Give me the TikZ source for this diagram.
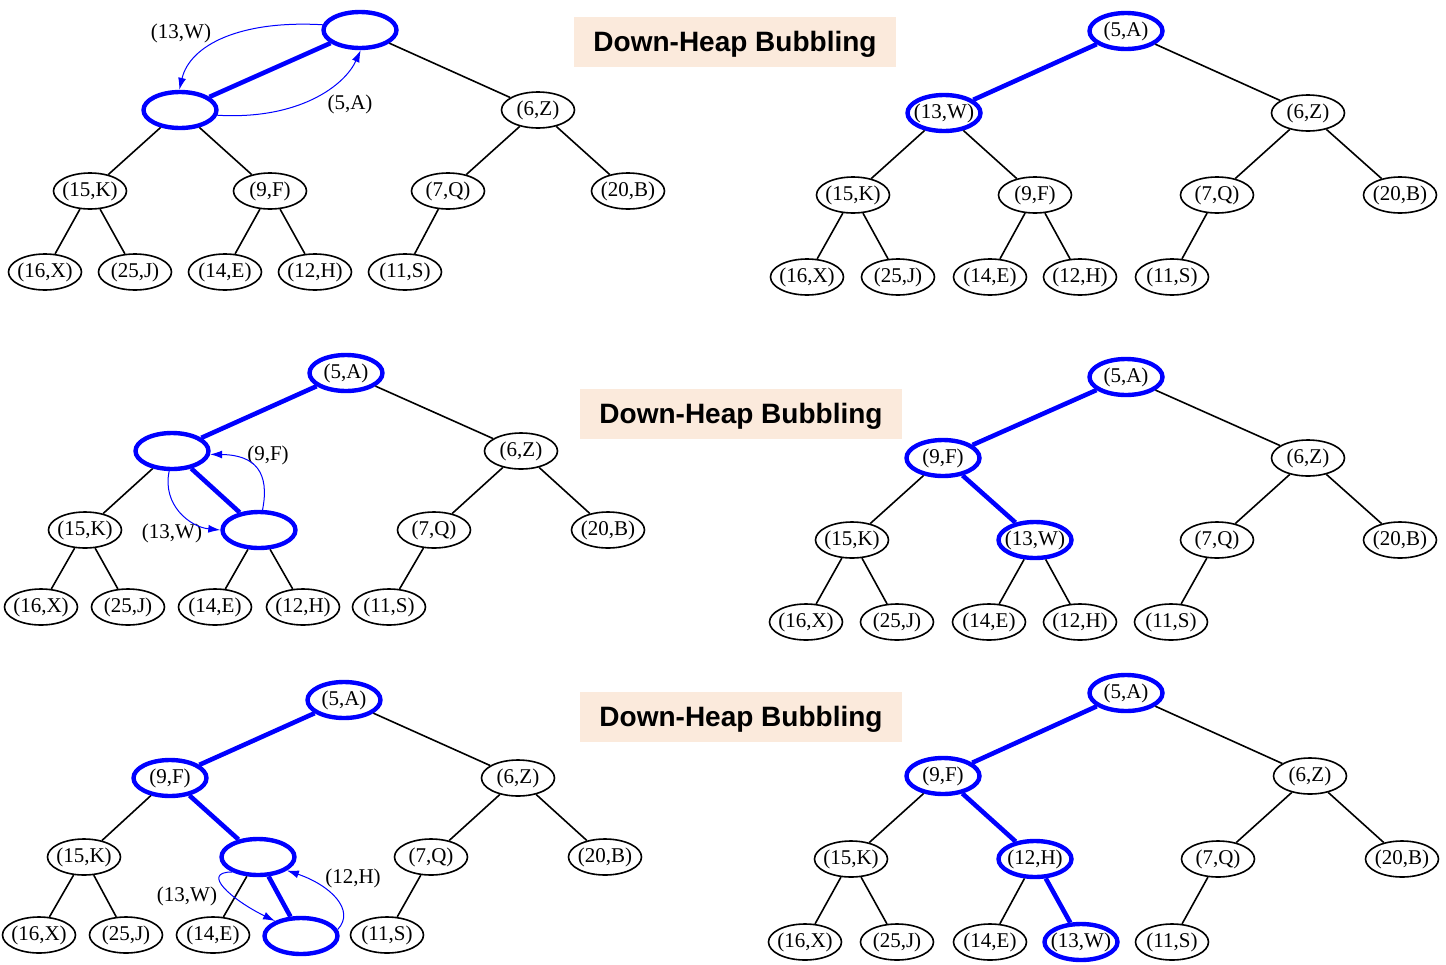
\documentclass[tikz,border=0pt]{standalone}
\usepackage{fontspec}
\setmainfont{Liberation Serif}
\newfontfamily\titlefont{Liberation Sans}
\usepackage{tikz}
\usetikzlibrary{shapes.geometric}
\usetikzlibrary{arrows.meta}
\definecolor{peach}{RGB}{251,234,220}

\begin{document}
\begin{tikzpicture}[x=0.5pt,y=0.5pt,
	heapnode/.style={ellipse, draw=black, line width=0.8pt, minimum width=36.5pt, minimum height=18pt, inner xsep=-5pt, inner ysep=0pt, font=\fontsize{10.5}{12}\selectfont},
	hotnode/.style={heapnode, draw=blue, line width=2.2pt},
	edge/.style={draw=black, line width=0.8pt},
	hotedge/.style={draw=blue, line width=2.3pt},
	swaparrow/.style={draw=blue, line width=0.5pt, -{Latex[length=6pt,width=4pt]}},
	swaplabel/.style={font=\fontsize{10.5}{12}\selectfont},
	titlebox/.style={fill=peach, minimum width=161pt, minimum height=25pt, text depth=1pt, font=\titlefont\bfseries\fontsize{14}{16}\selectfont},
	]
	\useasboundingbox (0,0) rectangle (1446,-964);

	%Titles
	\node[titlebox] (title1) at (735,-42)  {Down-Heap Bubbling};
	\node[titlebox] (title2) at (741,-414) {Down-Heap Bubbling};
	\node[titlebox] (title3) at (741,-717) {Down-Heap Bubbling};

	%Tree a (top left)
	\node[hotnode]  (a1)  at (360,-30)  {};
	\node[hotnode]  (a2)  at (180,-110) {};
	\node[heapnode] (a3)  at (538,-110) {(6,Z)};
	\node[heapnode] (a4)  at (90,-191)  {(15,K)};
	\node[heapnode] (a5)  at (270,-191) {(9,F)};
	\node[heapnode] (a6)  at (448,-191) {(7,Q)};
	\node[heapnode] (a7)  at (628,-191) {(20,B)};
	\node[heapnode] (a8)  at (45,-272)  {(16,X)};
	\node[heapnode] (a9)  at (135,-272) {(25,J)};
	\node[heapnode] (a10) at (225,-272) {(14,E)};
	\node[heapnode] (a11) at (315,-272) {(12,H)};
	\node[heapnode] (a12) at (405,-272) {(11,S)};
	\node[swaplabel] (a13) at (181,-33)  {(13,W)};
	\node[swaplabel] (a14) at (350,-104) {(5,A)};

	\draw[hotedge] (a1) -- (a2);
	\draw[edge] (a1) -- (a3);
	\draw[edge] (a2) -- (a4);
	\draw[edge] (a2) -- (a5);
	\draw[edge] (a3) -- (a6);
	\draw[edge] (a3) -- (a7);
	\draw[edge] (a4) -- (a8);
	\draw[edge] (a4) -- (a9);
	\draw[edge] (a5) -- (a10);
	\draw[edge] (a5) -- (a11);
	\draw[edge] (a6) -- (a12);
	\draw[swaparrow] (a1.172) .. controls (240,-20) and (190,-45) .. (a2.92);
	\draw[swaparrow] (a2.-8) .. controls (300,-120) and (345,-85) .. (a1.-88);

	%Tree b (top right)
	\node[hotnode]  (b1)  at (1126,-31)  {(5,A)};
	\node[hotnode]  (b2)  at (944,-113)  {(13,W)};
	\node[heapnode] (b3)  at (1308,-113) {(6,Z)};
	\node[heapnode] (b4)  at (853,-195)  {(15,K)};
	\node[heapnode] (b5)  at (1035,-195) {(9,F)};
	\node[heapnode] (b6)  at (1217,-195) {(7,Q)};
	\node[heapnode] (b7)  at (1400,-195) {(20,B)};
	\node[heapnode] (b8)  at (807,-277)  {(16,X)};
	\node[heapnode] (b9)  at (898,-277)  {(25,J)};
	\node[heapnode] (b10) at (990,-277)  {(14,E)};
	\node[heapnode] (b11) at (1080,-277) {(12,H)};
	\node[heapnode] (b12) at (1172,-277) {(11,S)};

	\draw[hotedge] (b1) -- (b2);
	\draw[edge] (b1) -- (b3);
	\draw[edge] (b2) -- (b4);
	\draw[edge] (b2) -- (b5);
	\draw[edge] (b3) -- (b6);
	\draw[edge] (b3) -- (b7);
	\draw[edge] (b4) -- (b8);
	\draw[edge] (b4) -- (b9);
	\draw[edge] (b5) -- (b10);
	\draw[edge] (b5) -- (b11);
	\draw[edge] (b6) -- (b12);

	%Tree c (middle left)
	\node[hotnode]  (c1)  at (346,-373) {(5,A)};
	\node[hotnode]  (c2)  at (172,-451) {};
	\node[heapnode] (c3)  at (521,-451) {(6,Z)};
	\node[heapnode] (c4)  at (85,-530)  {(15,K)};
	\node[hotnode]  (c5)  at (259,-530) {};
	\node[heapnode] (c6)  at (434,-530) {(7,Q)};
	\node[heapnode] (c7)  at (608,-530) {(20,B)};
	\node[heapnode] (c8)  at (41,-607)  {(16,X)};
	\node[heapnode] (c9)  at (128,-607) {(25,J)};
	\node[heapnode] (c10) at (215,-607) {(14,E)};
	\node[heapnode] (c11) at (303,-607) {(12,H)};
	\node[heapnode] (c12) at (389,-607) {(11,S)};
	\node[swaplabel] (c13) at (268,-455) {(9,F)};
	\node[swaplabel] (c14) at (172,-533) {(13,W)};

	\draw[hotedge] (c1) -- (c2);
	\draw[edge] (c1) -- (c3);
	\draw[edge] (c2) -- (c4);
	\draw[hotedge] (c2) -- (c5);
	\draw[edge] (c3) -- (c6);
	\draw[edge] (c3) -- (c7);
	\draw[edge] (c4) -- (c8);
	\draw[edge] (c4) -- (c9);
	\draw[edge] (c5) -- (c10);
	\draw[edge] (c5) -- (c11);
	\draw[edge] (c6) -- (c12);
	\draw[swaparrow] (c2.-98) .. controls (162,-505) and (190,-527) .. (c5.180);
	\draw[swaparrow] (c5.80) .. controls (270,-472) and (255,-455) .. (c2.-5);

	%Tree d (middle right)
	\node[hotnode]  (d1)  at (1126,-377) {(5,A)};
	\node[hotnode]  (d2)  at (943,-458)  {(9,F)};
	\node[heapnode] (d3)  at (1308,-458) {(6,Z)};
	\node[heapnode] (d4)  at (852,-540)  {(15,K)};
	\node[hotnode]  (d5)  at (1035,-540) {(13,W)};
	\node[heapnode] (d6)  at (1217,-540) {(7,Q)};
	\node[heapnode] (d7)  at (1400,-540) {(20,B)};
	\node[heapnode] (d8)  at (806,-622)  {(16,X)};
	\node[heapnode] (d9)  at (897,-622)  {(25,J)};
	\node[heapnode] (d10) at (989,-622)  {(14,E)};
	\node[heapnode] (d11) at (1080,-622) {(12,H)};
	\node[heapnode] (d12) at (1171,-622) {(11,S)};

	\draw[hotedge] (d1) -- (d2);
	\draw[edge] (d1) -- (d3);
	\draw[edge] (d2) -- (d4);
	\draw[hotedge] (d2) -- (d5);
	\draw[edge] (d3) -- (d6);
	\draw[edge] (d3) -- (d7);
	\draw[edge] (d4) -- (d8);
	\draw[edge] (d4) -- (d9);
	\draw[edge] (d5) -- (d10);
	\draw[edge] (d5) -- (d11);
	\draw[edge] (d6) -- (d12);

	%Tree e (bottom left)
	\node[hotnode]  (e1)  at (344,-700) {(5,A)};
	\node[hotnode]  (e2)  at (170,-778) {(9,F)};
	\node[heapnode] (e3)  at (518,-778) {(6,Z)};
	\node[heapnode] (e4)  at (84,-857)  {(15,K)};
	\node[hotnode]  (e5)  at (258,-857) {};
	\node[heapnode] (e6)  at (431,-857) {(7,Q)};
	\node[heapnode] (e7)  at (605,-857) {(20,B)};
	\node[heapnode] (e8)  at (39,-935)  {(16,X)};
	\node[heapnode] (e9)  at (126,-935) {(25,J)};
	\node[heapnode] (e10) at (213,-935) {(14,E)};
	\node[hotnode]  (e11) at (301,-936) {};
	\node[heapnode] (e12) at (387,-935) {(11,S)};
	\node[swaplabel] (e13) at (187,-896) {(13,W)};
	\node[swaplabel] (e14) at (353,-878) {(12,H)};

	\draw[hotedge] (e1) -- (e2);
	\draw[edge] (e1) -- (e3);
	\draw[edge] (e2) -- (e4);
	\draw[hotedge] (e2) -- (e5);
	\draw[edge] (e3) -- (e6);
	\draw[edge] (e3) -- (e7);
	\draw[edge] (e4) -- (e8);
	\draw[edge] (e4) -- (e9);
	\draw[edge] (e5) -- (e10);
	\draw[hotedge] (e5) -- (e11);
	\draw[edge] (e6) -- (e12);
	\draw[swaparrow] (e5.-150) .. controls (200,-872) and (232,-900) .. (e11.150);
	\draw[swaparrow] (e11.10) .. controls (356,-910) and (330,-885) .. (e5.-25);

	%Tree f (bottom right)
	\node[hotnode]  (f1)  at (1126,-693) {(5,A)};
	\node[hotnode]  (f2)  at (943,-776)  {(9,F)};
	\node[heapnode] (f3)  at (1310,-776) {(6,Z)};
	\node[heapnode] (f4)  at (851,-859)  {(15,K)};
	\node[hotnode]  (f5)  at (1035,-859) {(12,H)};
	\node[heapnode] (f6)  at (1218,-859) {(7,Q)};
	\node[heapnode] (f7)  at (1402,-859) {(20,B)};
	\node[heapnode] (f8)  at (805,-942)  {(16,X)};
	\node[heapnode] (f9)  at (897,-942)  {(25,J)};
	\node[heapnode] (f10) at (990,-942)  {(14,E)};
	\node[hotnode]  (f11) at (1081,-942) {(13,W)};
	\node[heapnode] (f12) at (1172,-942) {(11,S)};

	\draw[hotedge] (f1) -- (f2);
	\draw[edge] (f1) -- (f3);
	\draw[edge] (f2) -- (f4);
	\draw[hotedge] (f2) -- (f5);
	\draw[edge] (f3) -- (f6);
	\draw[edge] (f3) -- (f7);
	\draw[edge] (f4) -- (f8);
	\draw[edge] (f4) -- (f9);
	\draw[edge] (f5) -- (f10);
	\draw[hotedge] (f5) -- (f11);
	\draw[edge] (f6) -- (f12);
\end{tikzpicture}
\end{document}
